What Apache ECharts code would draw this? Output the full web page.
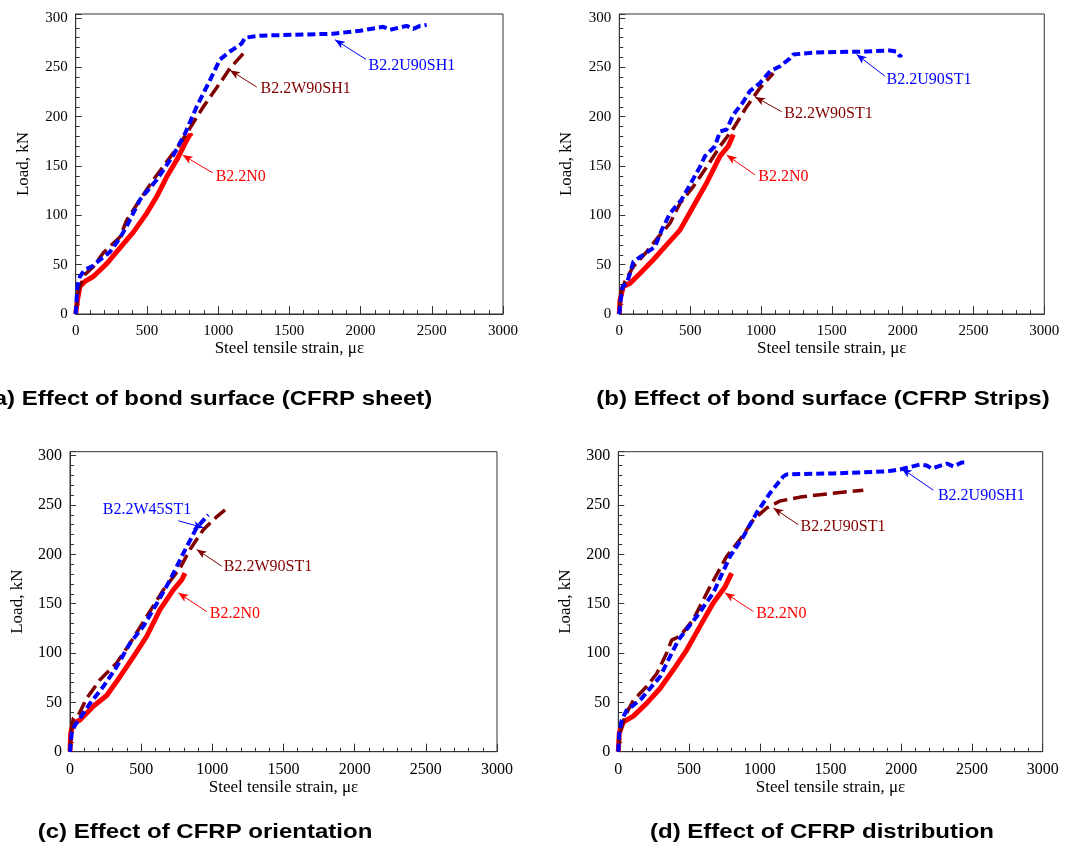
<!DOCTYPE html>
<html>
<head>
<meta charset="utf-8">
<script src="https://cdn.jsdelivr.net/npm/echarts@6/dist/echarts.min.js"></script>
<style>html,body{margin:0;padding:0;background:#fff;}#chart{width:1066px;height:850px;}</style>
</head>
<body>
<div id="chart"></div>
<script>
// ---------- DATA (strain in microstrain, load in kN) ----------
const a_N0 = [[0,0],[12,14],[30,28],[65,33],[124,38],[218,51],[311,67],[405,83],[498,102],[569,119],[639,139],[709,156],[768,173],[803,182],[812,180]];
const a_W90SH1 = [[0,0],[19,24],[65,40],[124,48],[194,62],[311,78],[358,95],[452,116],[545,136],[674,161],[721,170],[779,183],[896,210],[1013,234],[1083,249],[1177,264]];
const a_U90SH1 = [[0,0],[12,28],[30,38],[65,45],[112,48],[171,55],[241,63],[311,77],[358,89],[452,116],[569,136],[686,161],[768,183],[849,210],[943,237],[1013,258],[1083,266],[1165,274],[1189,280],[1294,282],[1528,283],[1809,284],[1996,287],[2160,291],[2207,288],[2323,292],[2370,289],[2417,292],[2464,293]];

const b_N0 = [[0,0],[5,14],[28,28],[75,31],[146,41],[240,55],[334,70],[428,85],[522,109],[617,133],[711,160],[769,170],[805,182]];
const b_W90ST1 = [[0,0],[9,21],[40,33],[99,48],[193,63],[264,76],[358,92],[428,112],[522,129],[617,149],[711,170],[805,188],[899,210],[993,229],[1087,244]];
const b_U90ST1 = [[0,0],[9,14],[24,28],[52,31],[75,41],[99,53],[169,60],[252,68],[299,85],[358,102],[440,116],[499,131],[569,149],[605,160],[675,170],[711,185],[758,187],[805,202],[875,215],[922,226],[993,234],[1064,246],[1134,251],[1205,259],[1228,263],[1393,265],[1746,266],[1911,267],[1958,266],[1981,261],[1993,263]];

const c_N0 = [[0,0],[5,19],[23,29],[70,32],[164,46],[258,57],[351,76],[445,96],[539,117],[632,144],[726,164],[785,174],[808,181]];
const c_W90ST1 = [[0,0],[7,19],[23,34],[59,37],[117,54],[211,73],[328,90],[422,110],[539,137],[656,164],[773,186],[843,205],[937,225],[1030,238],[1089,245]];
const c_W45ST1 = [[0,0],[12,19],[35,27],[70,34],[141,49],[234,66],[328,86],[422,110],[515,127],[609,150],[703,174],[796,201],[890,227],[972,240]];

const d_N0 = [[0,0],[7,19],[35,30],[106,36],[200,49],[295,64],[389,83],[483,103],[577,127],[672,151],[754,167],[801,181]];
const d_U90ST1 = [[0,0],[12,19],[47,36],[106,52],[200,66],[271,79],[342,100],[377,113],[436,117],[530,134],[648,167],[766,198],[860,215],[955,235],[1049,247],[1143,254],[1285,258],[1520,262],[1732,265]];
const d_U90SH1 = [[0,0],[7,19],[24,32],[59,42],[106,47],[165,54],[224,64],[295,76],[354,93],[424,113],[554,137],[672,161],[790,198],[884,218],[978,242],[1072,262],[1167,279],[1190,281],[1520,282],[1897,284],[1992,286],[2133,291],[2180,290],[2216,287],[2322,292],[2369,289],[2428,293],[2463,293]];

// annotation: [label, textX, textY, arrowTailX, arrowTailY, arrowTipX, arrowTipY]
const a_ann = {N0:['B2.2N0',979,139,962,143,751,161], W:['B2.2W90SH1',1294,228,1271,230,1083,247], U:['B2.2U90SH1',2053,252,2038,258,1820,278]};
const b_ann = {N0:['B2.2N0',977,139,958,141,758,161], W:['B2.2W90ST1',1161,203,1146,205,958,220], U:['B2.2U90ST1',1883,237,1875,241,1675,263]};
const c_ann = {N0:['B2.2N0',979,140,960,142,761,161], W:['B2.2W90ST1',1077,187,1066,188,890,205], U:['B2.2W45ST1',227,245,761,234,937,227]};
const d_ann = {N0:['B2.2N0',971,140,955,142,754,161], W:['B2.2U90ST1',1285,228,1273,230,1096,247], U:['B2.2U90SH1',2256,259,2227,265,2003,287]};

const captions = ['(a) Effect of bond surface (CFRP sheet)','(b) Effect of bond surface (CFRP Strips)','(c) Effect of CFRP orientation','(d) Effect of CFRP distribution'];
const xTicks = {min:0, max:3000, step:500};
const yTicks = {min:0, max:304, step:50, minor:10};

// ---------- LAYOUT / STYLE ----------
const RED='#ff0000', BLUE='#0000ff', DARK='#800000';
const SERIF='"Liberation Serif","Times New Roman",serif';
const grids = [
  {left:75.7, top:14, width:427.3, height:300},
  {left:619.3, top:14, width:425, height:300},
  {left:70, top:451.7, width:427, height:300},
  {left:618.3, top:451.7, width:424.4, height:300}
];
const tickFont=[15,15,16,16];
const captionPos=[[209,399],[823,399],[205,832],[822,832]];
const AX='#333';

const xAxes=[], yAxes=[], series=[];
grids.forEach((g,i)=>{
  xAxes.push({type:'value', gridIndex:i, min:xTicks.min, max:xTicks.max, interval:xTicks.step,
    name:'Steel tensile strain, \u03bc\u03b5', nameLocation:'middle', nameGap:26,
    nameTextStyle:{fontFamily:SERIF, fontSize:17, color:'#000'},
    axisLine:{show:true, onZero:false, lineStyle:{color:AX, width:1}},
    axisTick:{show:true, inside:true, length:8, lineStyle:{color:AX}},
    minorTick:{show:true, splitNumber:5, length:4, lineStyle:{color:AX}},
    axisLabel:{fontFamily:SERIF, fontSize:tickFont[i], color:'#000', margin:10, formatter:v=>String(v)},
    splitLine:{show:false}});
  yAxes.push({type:'value', gridIndex:i, min:yTicks.min, max:yTicks.max, interval:yTicks.step,
    name:'Load, kN', nameLocation:'middle', nameGap:44, nameRotate:90,
    nameTextStyle:{fontFamily:SERIF, fontSize:17, color:'#000'},
    axisLine:{show:true, onZero:false, lineStyle:{color:AX, width:1}},
    axisTick:{show:true, inside:true, length:6, lineStyle:{color:AX}},
    axisLabel:{fontFamily:SERIF, fontSize:tickFont[i], color:'#000', margin:8,
      formatter:v=> (v%yTicks.step===0 ? String(v) : '')},
    splitLine:{show:false}});
  yAxes.push({type:'value', gridIndex:i, position:'left', min:yTicks.min, max:yTicks.max, interval:yTicks.minor,
    axisLine:{show:false}, axisLabel:{show:false}, splitLine:{show:false},
    axisTick:{show:true, inside:true, length:4, lineStyle:{color:AX}}});
});

function mkSeries(idx, data, color, width, dash, ann){
  return {
    type:'line', xAxisIndex:idx, yAxisIndex:idx*2, data:data, symbol:'none', smooth:false,
    animation:false, silent:true, z: 3,
    lineStyle:{color:color, width:width, type:dash},
    markLine:{silent:true, animation:false, symbol:['none','arrow'], symbolSize:[6,10],
      lineStyle:{color:color, width:1, type:'solid'}, label:{show:false},
      data:[[{coord:[ann[3],ann[4]]},{coord:[ann[5],ann[6]]}]]},
    markPoint:{silent:true, animation:false, symbol:'circle', symbolSize:1,
      itemStyle:{color:'rgba(0,0,0,0)'},
      label:{show:true, position:'right', distance:0, formatter:'{b}', color:color,
        fontFamily:SERIF, fontSize:16},
      data:[{name:ann[0], coord:[ann[1],ann[2]]}]}
  };
}
const panels = [
  [a_N0, a_W90SH1, a_U90SH1, a_ann],
  [b_N0, b_W90ST1, b_U90ST1, b_ann],
  [c_N0, c_W90ST1, c_W45ST1, c_ann],
  [d_N0, d_U90ST1, d_U90SH1, d_ann]
];
panels.forEach((p,i)=>{
  series.push(mkSeries(i, p[0], RED, 5, 'solid', p[3].N0));
  series.push(mkSeries(i, p[1], DARK, 3.5, [14,6], p[3].W));
  series.push(mkSeries(i, p[2], BLUE, 4, [8,4], p[3].U));
});

const graphic = captions.map((t,i)=>({type:'text', x:captionPos[i][0], y:captionPos[i][1], scaleX:1.2, scaleY:1,
  style:{text:t, textAlign:'center', textVerticalAlign:'middle', fill:'#000',
    font:'bold 20px "Liberation Sans", Arial, sans-serif'}}));

const chart = echarts.init(document.getElementById('chart'), null, {renderer:'canvas'});
chart.setOption({
  animation:false,
  backgroundColor:'#fff',
  grid: grids.map(g=>Object.assign({show:true, borderColor:AX, borderWidth:1, backgroundColor:'transparent', containLabel:false}, g)),
  xAxis:xAxes, yAxis:yAxes, series:series, graphic:graphic
});
</script>
</body>
</html>
